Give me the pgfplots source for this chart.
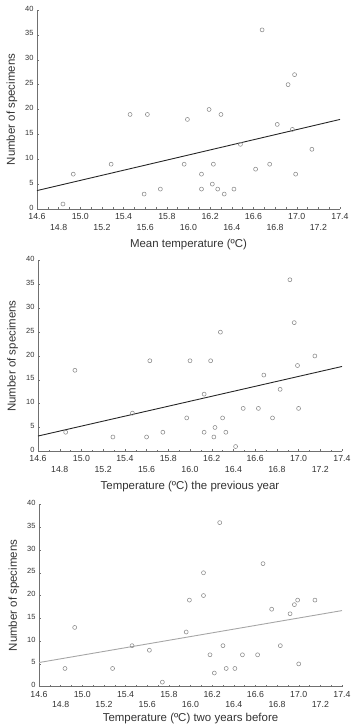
\documentclass[border=0pt]{standalone}
\usepackage{fontspec}
\setmainfont{Liberation Sans}
\usepackage{pgfplots}
\pgfplotsset{compat=1.18}
\definecolor{txt}{HTML}{333333}
\definecolor{mk}{HTML}{8A8A8A}
\definecolor{axc}{HTML}{707070}
\pgfplotsset{
  panel/.style={
    scale only axis,
    axis lines=left,
    axis line style={axc,-,line width=0.7pt},
    xmin=14.6, xmax=17.4, ymin=0, ymax=40,
    xtick={14.6,15.0,15.4,15.8,16.2,16.6,17.0,17.4},
    extra x ticks={14.8,15.2,15.6,16.0,16.4,16.8,17.2},
    extra x tick style={xticklabel style={yshift=-10.5bp}},
    minor x tick num=3,
    ytick={0,5,...,40},
    tick align=inside,
    major tick length=2bp, minor tick length=1.5bp,
    tick style={axc,line width=0.4pt},
    /pgf/number format/assume math mode=true,
    xticklabel style={font=\fontsize{8.8}{10}\selectfont, text=txt, yshift=-1bp,
      /pgf/number format/fixed, /pgf/number format/fixed zerofill, /pgf/number format/precision=1},
    yticklabel style={font=\fontsize{7.5}{9}\selectfont, text=txt, yshift=1.5bp},
    label style={font=\fontsize{11.5}{13}\selectfont, text=txt},
    ylabel={Number of specimens},
    ylabel style={at={(axis description cs:-0.083,0.5)}, anchor=center, rotate=0},
    clip=false,
  },
  pts/.style={only marks, mark=o, mark size=2bp, mark options={mk, line width=0.55pt}},
}
\begin{document}
\begin{tikzpicture}[x=1bp,y=1bp]
\useasboundingbox (0,0) rectangle (351,724);
% Panel 1
\begin{axis}[panel, at={(37bp,515bp)}, anchor=south west, width=303bp, height=199bp,
  xlabel={Mean temperature (ºC)},
  xlabel style={at={(axis description cs:0.5,-0.18)}, anchor=center}]
\addplot[pts] coordinates {
(14.84,1) (14.935,7) (15.285,9) (15.46,19) (15.59,3) (15.62,19) (15.74,4)
(15.96,9) (15.99,18) (16.12,7) (16.12,4) (16.19,20) (16.22,5) (16.23,9)
(16.27,4) (16.30,19) (16.33,3) (16.42,4) (16.48,13) (16.62,8) (16.68,36)
(16.75,9) (16.82,17) (16.92,25) (16.96,16) (16.98,27) (16.99,7) (17.14,12)};
\addplot[no marks, color=black!85, line width=0.9pt] coordinates {(14.6,3.7) (17.4,18.0)};
\end{axis}
% Panel 2
\begin{axis}[panel, at={(38bp,272.7bp)}, anchor=south west, width=304bp, height=190.6bp,
  xlabel={Temperature (ºC) the previous year},
  xlabel style={at={(axis description cs:0.5,-0.185)}, anchor=center}]
\addplot[pts] coordinates {
(14.855,4) (14.94,17) (15.29,3) (15.47,8) (15.60,3) (15.63,19) (15.75,4)
(15.97,7) (16.00,19) (16.13,12) (16.13,4) (16.19,19) (16.22,3) (16.23,5)
(16.28,25) (16.30,7) (16.33,4) (16.42,1) (16.49,9) (16.63,9) (16.68,16)
(16.76,7) (16.83,13) (16.92,36) (16.96,27) (16.99,18) (17.00,9) (17.15,20)};
\addplot[no marks, color=black!85, line width=0.9pt] coordinates {(14.6,3.2) (17.4,17.8)};
\end{axis}
% Panel 3
\begin{axis}[panel, at={(39bp,37.3bp)}, anchor=south west, width=303bp, height=182.3bp,
  xlabel={Temperature (ºC) two years before},
  xlabel style={at={(axis description cs:0.5,-0.175)}, anchor=center}]
\addplot[pts] coordinates {
(14.84,4) (14.93,13) (15.28,4) (15.46,9) (15.62,8) (15.74,1) (15.96,12)
(15.99,19) (16.12,25) (16.12,20) (16.18,7) (16.22,3) (16.27,36) (16.30,9)
(16.33,4) (16.41,4) (16.48,7) (16.62,7) (16.67,27) (16.75,17) (16.83,9)
(16.92,16) (16.96,18) (16.99,19) (17.00,5) (17.15,19)};
\addplot[no marks, color=black!35, line width=0.9pt] coordinates {(14.6,5.3) (17.4,16.7)};
\end{axis}
\end{tikzpicture}
\end{document}
